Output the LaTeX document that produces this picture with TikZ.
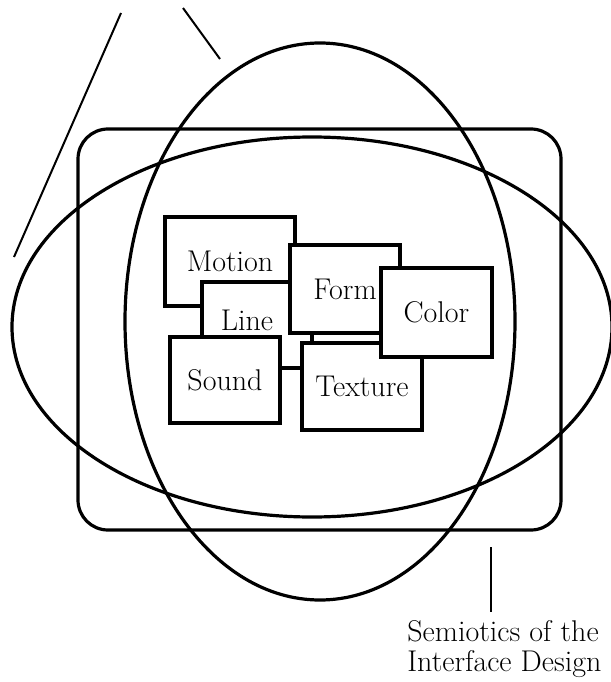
\documentclass[tikz,border=0pt]{standalone}
\usepackage{tikz}
\usetikzlibrary{positioning, calc}

\begin{document}
\begin{tikzpicture}[x=1pt, y=-1pt, thick,
    attr/.style={draw, rectangle, fill=white, line width=3.6pt, inner sep=0pt, font=\fontsize{30}{30}\selectfont},
    ring/.style={line width=3.2pt},
    pointer/.style={line width=2pt}]
    \useasboundingbox (0,0) rectangle (610,682);

    % Frames
    \draw[ring, rounded corners=30pt] (78,129) rectangle (561,530);
    \draw[ring] (320,321.5) ellipse [x radius=195, y radius=278.5];
    \draw[ring] (312,327) ellipse [x radius=300, y radius=190];

    % Pointer lines at top
    \coordinate (PtA1) at (121,13);
    \coordinate (PtA2) at (14,257);
    \coordinate (PtB1) at (183,8);
    \coordinate (PtB2) at (220,59);
    \draw[pointer] (PtA1) -- (PtA2);
    \draw[pointer] (PtB1) -- (PtB2);

    % Elements, back to front
    \node[attr, minimum width=130, minimum height=89] (Mot) at (230,261.5) {Motion};
    \node[attr, minimum width=110, minimum height=86] (Lin) at (257,325) {\hspace*{-20pt}\raisebox{10pt}{Line}};
    \node[attr, minimum width=110, minimum height=88] (Frm) at (345,289) {Form};
    \node[attr, minimum width=110, minimum height=86] (Snd) at (225,380) {Sound};
    \node[attr, minimum width=120, minimum height=87] (Tex) at (362,386.5) {Texture};
    \node[attr, minimum width=111, minimum height=89] (Col) at (436.5,312.5) {Color};

    % Caption
    \node[anchor=north west, align=left, inner sep=0pt, font=\fontsize{30}{30}\selectfont] (Sem) at (407,620) {Semiotics of the\\Interface Design};
    \coordinate (SemTop) at (491,547);
    \draw[pointer] (SemTop) -- ([yshift=8pt]Sem.north -| SemTop);
\end{tikzpicture}
\end{document}
